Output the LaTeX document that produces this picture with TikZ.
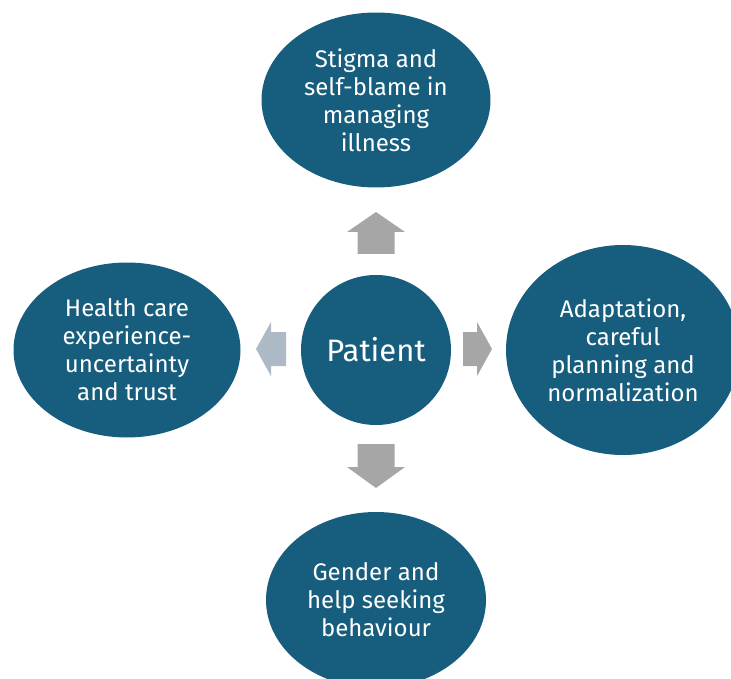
\documentclass[tikz,border=0pt]{standalone}
\usepackage{fontspec}
\setmainfont{Fira Sans}
\usetikzlibrary{shapes.geometric}
\definecolor{themeblue}{HTML}{175E7E}
\definecolor{arrgray}{HTML}{A6A6A6}
\definecolor{arrpale}{HTML}{ADB9C5}
\begin{document}
\begin{tikzpicture}[x=1pt,y=-1pt]
\tikzstyle{theme}=[shape=ellipse,fill=themeblue,text=white,inner sep=0pt,align=center,font=\fontsize{24}{28}\selectfont]
\useasboundingbox (0,0) rectangle (731,679);
\clip (0,0) rectangle (731,679);

\node[theme,minimum width=229pt,minimum height=175pt] at (376,100) (stigma) {Stigma and\\self-blame in\\managing\\illness};
\node[theme,minimum width=227pt,minimum height=175pt] at (127,350) (care) {Health care\\experience-\\uncertainty\\and trust};
\node[theme,minimum width=234pt,minimum height=210pt] at (623,350) (adapt) {Adaptation,\\careful\\planning and\\normalization};
\node[theme,minimum width=220pt,minimum height=176pt] at (376,600) (gender) {Gender and\\help seeking\\behaviour};
\node[theme,shape=circle,minimum size=150pt,font=\fontsize{31}{36}\selectfont] at (376,350) (patient) {Patient};

\fill[arrgray] (357.5,254) -- (357.5,232) -- (347,232) -- (376,212) -- (405,232) -- (394.5,232) -- (394.5,254) -- cycle;
\fill[arrgray] (357.5,444) -- (357.5,467) -- (347,467) -- (376,488) -- (405,467) -- (394.5,467) -- (394.5,444) -- cycle;
\fill[arrpale] (286,332) -- (271,332) -- (271,322) -- (256,349) -- (271,376) -- (271,366) -- (286,366) -- cycle;
\fill[arrgray] (463,332) -- (477,332) -- (477,322) -- (492,349) -- (477,376) -- (477,366) -- (463,366) -- cycle;
\end{tikzpicture}
\end{document}
